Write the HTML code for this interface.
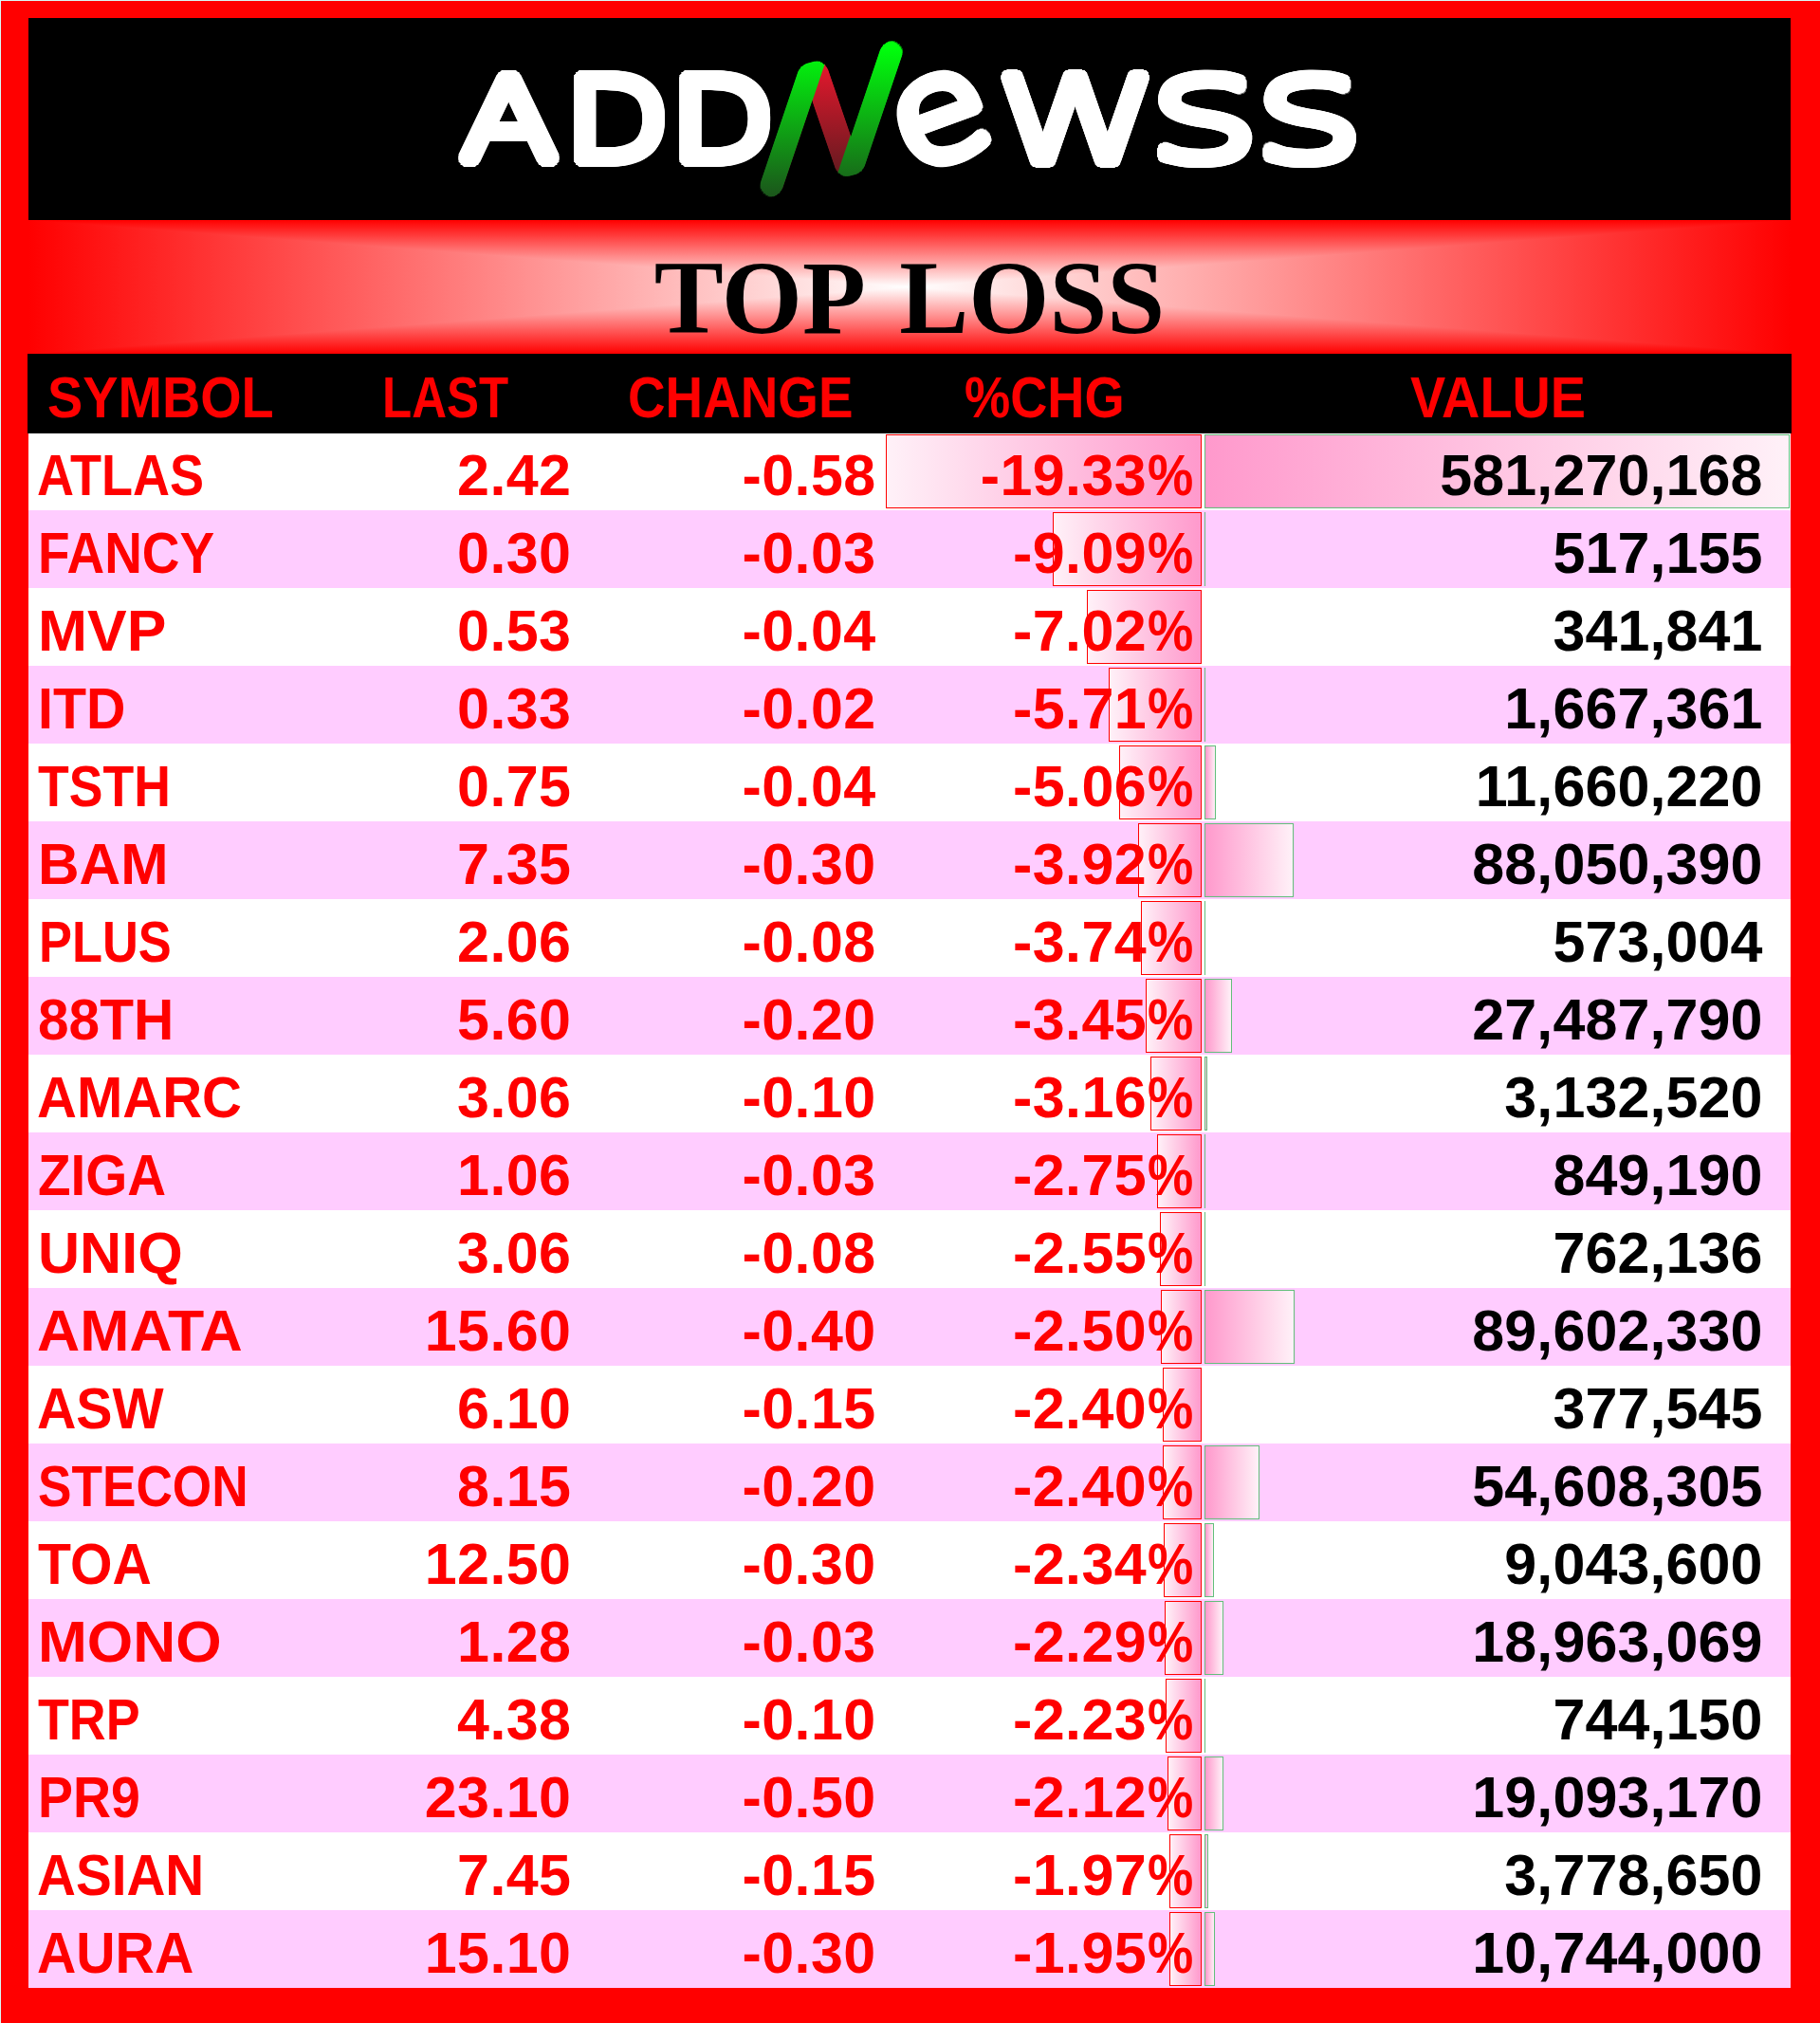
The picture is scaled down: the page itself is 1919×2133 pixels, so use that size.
<!DOCTYPE html>
<html lang="en"><head><meta charset="utf-8"><title>ADDNewss - TOP LOSS</title>
<style>
html,body{margin:0;padding:0;background:#ff0000;}
body{width:1919px;height:2133px;overflow:hidden;position:relative;font-family:"Liberation Sans",sans-serif;}
#page{position:absolute;left:0;top:0;width:1918px;height:2132px;background:#ff0000;border-left:1px solid #d9f8f6;border-top:1px solid #d9f8f6;}
#wrap{position:absolute;left:-1px;top:-1px;width:1919px;height:2133px;}
.brand{position:absolute;left:30px;top:19px;width:1858px;height:213px;background:#000;}
.brand svg{position:absolute;left:0;top:0;}
.title{position:absolute;left:30px;top:232px;width:1858px;height:141px;background:linear-gradient(to bottom,#ff0000 0%,#ffffff 50%,#ff0000 100%);}
.title .lr{position:absolute;left:0;top:0;width:100%;height:100%;background:linear-gradient(to right,#ff0000 0%,#ffffff 50%,#ff0000 100%);clip-path:polygon(0 0,50% 50%,100% 0,100% 100%,50% 50%,0 100%);}
.title h1{position:absolute;left:0;top:12px;width:100%;margin:0;text-align:center;font:bold 109.5px/141px "Liberation Serif",serif;color:#000;white-space:nowrap;word-spacing:14px;}
.thead{position:absolute;left:29px;top:373px;width:1860px;height:84px;background:#000;z-index:1;}
.row{position:absolute;left:30px;width:1858px;height:82px;background:#fff;}
.row.alt{background:#ffccff;}
.t{position:absolute;top:0;white-space:nowrap;font-weight:bold;font-size:61px;line-height:82px;color:#ff0000;}
.thead .t{line-height:84px;}
.sym{transform-origin:0 50%;}
.num{text-align:right;letter-spacing:0.4px;}
.val{color:#000;letter-spacing:0.1px;}
.pc{display:inline-block;transform-origin:0 50%;margin-left:1.2px;letter-spacing:0;}
.bar{position:absolute;top:2px;height:76px;box-sizing:content-box;border:1px solid #ff0000;}
.bp{background:linear-gradient(to right,#fff1f8 0%,#ff99cc 100%);}
.bv{border-color:#63be7b;background:linear-gradient(to right,#ff99cc 0%,#fff1f8 100%);}
</style></head><body><div id="page"><div id="wrap">
<div class="brand"><svg width="1858" height="213" viewBox="30 19 1858 213">
<defs>
<linearGradient id="gGreen" gradientUnits="userSpaceOnUse" x1="0" y1="50" x2="0" y2="205">
<stop offset="0" stop-color="#00ff0c"/><stop offset="1" stop-color="#1b581b"/></linearGradient>
<linearGradient id="gRed" gradientUnits="userSpaceOnUse" x1="0" y1="72" x2="0" y2="182">
<stop offset="0" stop-color="#df182c"/><stop offset="1" stop-color="#661a20"/></linearGradient>
<linearGradient id="gRedT" href="#gRed" gradientTransform="matrix(0.54042 0.17043 0.18303 0.63546 -460.772 -265.538)"/>
<filter id="dil950e100" filterUnits="userSpaceOnUse" x="400" y="19" width="1100" height="213" color-interpolation-filters="sRGB"><feMorphology in="SourceGraphic" operator="erode" radius="1.0" result="er"/><feMorphology in="er" operator="dilate" radius="9.46 0.83" result="d0"/><feMorphology in="er" operator="dilate" radius="9.18 2.46" result="d1"/><feMorphology in="er" operator="dilate" radius="8.61 4.01" result="d2"/><feMorphology in="er" operator="dilate" radius="7.78 5.45" result="d3"/><feMorphology in="er" operator="dilate" radius="6.72 6.72" result="d4"/><feMorphology in="er" operator="dilate" radius="5.45 7.78" result="d5"/><feMorphology in="er" operator="dilate" radius="4.01 8.61" result="d6"/><feMorphology in="er" operator="dilate" radius="2.46 9.18" result="d7"/><feMorphology in="er" operator="dilate" radius="0.83 9.46" result="d8"/><feMerge><feMergeNode in="d0"/><feMergeNode in="d1"/><feMergeNode in="d2"/><feMergeNode in="d3"/><feMergeNode in="d4"/><feMergeNode in="d5"/><feMergeNode in="d6"/><feMergeNode in="d7"/><feMergeNode in="d8"/></feMerge></filter>
<filter id="dil875e100" filterUnits="userSpaceOnUse" x="400" y="19" width="1100" height="213" color-interpolation-filters="sRGB"><feMorphology in="SourceGraphic" operator="erode" radius="1.0" result="er"/><feMorphology in="er" operator="dilate" radius="8.72 0.76" result="d0"/><feMorphology in="er" operator="dilate" radius="8.45 2.26" result="d1"/><feMorphology in="er" operator="dilate" radius="7.93 3.70" result="d2"/><feMorphology in="er" operator="dilate" radius="7.17 5.02" result="d3"/><feMorphology in="er" operator="dilate" radius="6.19 6.19" result="d4"/><feMorphology in="er" operator="dilate" radius="5.02 7.17" result="d5"/><feMorphology in="er" operator="dilate" radius="3.70 7.93" result="d6"/><feMorphology in="er" operator="dilate" radius="2.26 8.45" result="d7"/><feMorphology in="er" operator="dilate" radius="0.76 8.72" result="d8"/><feMerge><feMergeNode in="d0"/><feMergeNode in="d1"/><feMergeNode in="d2"/><feMergeNode in="d3"/><feMergeNode in="d4"/><feMergeNode in="d5"/><feMergeNode in="d6"/><feMergeNode in="d7"/><feMergeNode in="d8"/></feMerge></filter>
<filter id="dil800e100" filterUnits="userSpaceOnUse" x="400" y="19" width="1100" height="213" color-interpolation-filters="sRGB"><feMorphology in="SourceGraphic" operator="erode" radius="1.0" result="er"/><feMorphology in="er" operator="dilate" radius="7.97 0.70" result="d0"/><feMorphology in="er" operator="dilate" radius="7.73 2.07" result="d1"/><feMorphology in="er" operator="dilate" radius="7.25 3.38" result="d2"/><feMorphology in="er" operator="dilate" radius="6.55 4.59" result="d3"/><feMorphology in="er" operator="dilate" radius="5.66 5.66" result="d4"/><feMorphology in="er" operator="dilate" radius="4.59 6.55" result="d5"/><feMorphology in="er" operator="dilate" radius="3.38 7.25" result="d6"/><feMorphology in="er" operator="dilate" radius="2.07 7.73" result="d7"/><feMorphology in="er" operator="dilate" radius="0.70 7.97" result="d8"/><feMerge><feMergeNode in="d0"/><feMergeNode in="d1"/><feMergeNode in="d2"/><feMergeNode in="d3"/><feMergeNode in="d4"/><feMergeNode in="d5"/><feMergeNode in="d6"/><feMergeNode in="d7"/><feMergeNode in="d8"/></feMerge></filter>
<filter id="dil1125e250" filterUnits="userSpaceOnUse" x="400" y="19" width="1100" height="213" color-interpolation-filters="sRGB"><feMorphology in="SourceGraphic" operator="erode" radius="2.5" result="er"/><feMorphology in="er" operator="dilate" radius="11.21 0.98" result="d0"/><feMorphology in="er" operator="dilate" radius="10.87 2.91" result="d1"/><feMorphology in="er" operator="dilate" radius="10.20 4.75" result="d2"/><feMorphology in="er" operator="dilate" radius="9.22 6.45" result="d3"/><feMorphology in="er" operator="dilate" radius="7.95 7.95" result="d4"/><feMorphology in="er" operator="dilate" radius="6.45 9.22" result="d5"/><feMorphology in="er" operator="dilate" radius="4.75 10.20" result="d6"/><feMorphology in="er" operator="dilate" radius="2.91 10.87" result="d7"/><feMorphology in="er" operator="dilate" radius="0.98 11.21" result="d8"/><feMerge><feMergeNode in="d0"/><feMergeNode in="d1"/><feMergeNode in="d2"/><feMergeNode in="d3"/><feMergeNode in="d4"/><feMergeNode in="d5"/><feMergeNode in="d6"/><feMergeNode in="d7"/><feMergeNode in="d8"/></feMerge></filter>
<mask id="mN" maskUnits="userSpaceOnUse" x="780" y="19" width="200" height="213"><g filter="url(#dil1125e250)"><text transform="matrix(2.0353 -0.5459 -0.5862 1.7309 782.14 208.09)" font-family="DejaVu Sans, sans-serif" font-weight="200" font-size="100" fill="#fff">N</text></g></mask>
</defs>
<g filter="url(#dil950e100)"><text transform="translate(486.05 168.30) scale(1.2625 1)" font-family="DejaVu Sans, sans-serif" font-weight="200" font-size="117.53" fill="#fff">A</text></g>
<g filter="url(#dil950e100)"><text transform="translate(596.07 168.30) scale(1.2002 1)" font-family="DejaVu Sans, sans-serif" font-weight="200" font-size="117.53" fill="#fff">D</text></g>
<g filter="url(#dil950e100)"><text transform="translate(707.27 168.30) scale(1.2002 1)" font-family="DejaVu Sans, sans-serif" font-weight="200" font-size="117.53" fill="#fff">D</text></g>
<g mask="url(#mN)"><rect x="780" y="19" width="200" height="213" fill="url(#gGreen)"/><rect transform="matrix(2.0353 -0.5459 -0.5862 1.7309 782.14 208.09)" x="21.59" y="-150" width="28.31" height="230" fill="url(#gRedT)"/></g>
<g filter="url(#dil875e100)"><text transform="translate(993.20 125.80) rotate(-20) scale(1.1047 1) translate(-46.37 40.76)" font-family="DejaVu Sans, sans-serif" font-weight="200" font-size="149.57" fill="#fff">e</text></g>
<g filter="url(#dil800e100)"><text transform="translate(1047.65 170.00) scale(1.3333 1)" font-family="DejaVu Sans, sans-serif" font-weight="200" font-size="163.30" fill="#fff">w</text></g>
<g filter="url(#dil800e100)"><text transform="translate(1209.70 167.68) scale(1.4903 1)" font-family="DejaVu Sans, sans-serif" font-weight="200" font-size="154.78" fill="#fff">s</text></g>
<g filter="url(#dil800e100)"><text transform="translate(1321.52 167.68) scale(1.4627 1)" font-family="DejaVu Sans, sans-serif" font-weight="200" font-size="154.78" fill="#fff">s</text></g>
</svg></div>
<div class="title"><div class="lr"></div><h1>TOP LOSS</h1></div>
<div class="thead"><span class="t sym" style="left:21.2px;top:4px;transform:scaleX(0.9147)">SYMBOL</span><span class="t sym" style="left:374.2px;top:4px;transform:scaleX(0.8355)">LAST</span><span class="t sym" style="left:633.3px;top:4px;transform:scaleX(0.8982)">CHANGE</span><span class="t sym" style="left:988.0px;top:4px;transform:scaleX(0.8885)">%CHG</span><span class="t sym" style="left:1457.8px;top:4px;transform:scaleX(0.9153)">VALUE</span></div>
<div class="row" style="top:456px"><div class="bar bp" style="left:904.0px;width:331.0px"></div><div class="bar bv" style="left:1240px;width:615.0px"></div><span class="t sym" style="left:9.2px;top:3.5px;transform:scaleX(0.8857)">ATLAS</span><span class="t num" style="right:1285.6px;top:3.5px">2.42</span><span class="t num" style="right:964.4px;top:3.5px">-0.58</span><span class="t num" style="right:629.5px;top:3.5px">-19.33<span class="pc" style="transform:scaleX(0.8900);margin-right:-6.0px">%</span></span><span class="t num val" style="right:29.40000000000009px;top:3.5px">581,270,168</span></div>
<div class="row alt" style="top:538px"><div class="bar bp" style="left:1080.4px;width:154.6px"></div><div class="bar bv" style="left:1240px;width:0;border-right:0;border-left-width:0.75px"></div><span class="t sym" style="left:10.4px;top:3.5px;transform:scaleX(0.9002)">FANCY</span><span class="t num" style="right:1285.6px;top:3.5px">0.30</span><span class="t num" style="right:964.4px;top:3.5px">-0.03</span><span class="t num" style="right:629.5px;top:3.5px">-9.09<span class="pc" style="transform:scaleX(0.8900);margin-right:-6.0px">%</span></span><span class="t num val" style="right:29.40000000000009px;top:3.5px">517,155</span></div>
<div class="row" style="top:620px"><div class="bar bp" style="left:1116.1px;width:118.9px"></div><span class="t sym" style="left:9.9px;top:3.5px;transform:scaleX(1.0233)">MVP</span><span class="t num" style="right:1285.6px;top:3.5px">0.53</span><span class="t num" style="right:964.4px;top:3.5px">-0.04</span><span class="t num" style="right:629.5px;top:3.5px">-7.02<span class="pc" style="transform:scaleX(0.8900);margin-right:-6.0px">%</span></span><span class="t num val" style="right:29.40000000000009px;top:3.5px">341,841</span></div>
<div class="row alt" style="top:702px"><div class="bar bp" style="left:1138.6px;width:96.4px"></div><div class="bar bv" style="left:1240px;width:0;border-right:0;border-left-width:1.77px"></div><span class="t sym" style="left:10.2px;top:3.5px;transform:scaleX(0.9402)">ITD</span><span class="t num" style="right:1285.6px;top:3.5px">0.33</span><span class="t num" style="right:964.4px;top:3.5px">-0.02</span><span class="t num" style="right:629.5px;top:3.5px">-5.71<span class="pc" style="transform:scaleX(0.8900);margin-right:-6.0px">%</span></span><span class="t num val" style="right:29.40000000000009px;top:3.5px">1,667,361</span></div>
<div class="row" style="top:784px"><div class="bar bp" style="left:1149.8px;width:85.2px"></div><div class="bar bv" style="left:1240px;width:10.4px"></div><span class="t sym" style="left:9.6px;top:3.5px;transform:scaleX(0.8783)">TSTH</span><span class="t num" style="right:1285.6px;top:3.5px">0.75</span><span class="t num" style="right:964.4px;top:3.5px">-0.04</span><span class="t num" style="right:629.5px;top:3.5px">-5.06<span class="pc" style="transform:scaleX(0.8900);margin-right:-6.0px">%</span></span><span class="t num val" style="right:29.40000000000009px;top:3.5px">11,660,220</span></div>
<div class="row alt" style="top:866px"><div class="bar bp" style="left:1169.5px;width:65.5px"></div><div class="bar bv" style="left:1240px;width:91.5px"></div><span class="t sym" style="left:10.0px;top:3.5px;transform:scaleX(0.9901)">BAM</span><span class="t num" style="right:1285.6px;top:3.5px">7.35</span><span class="t num" style="right:964.4px;top:3.5px">-0.30</span><span class="t num" style="right:629.5px;top:3.5px">-3.92<span class="pc" style="transform:scaleX(0.8900);margin-right:-6.0px">%</span></span><span class="t num val" style="right:29.40000000000009px;top:3.5px">88,050,390</span></div>
<div class="row" style="top:948px"><div class="bar bp" style="left:1172.6px;width:62.4px"></div><div class="bar bv" style="left:1240px;width:0;border-right:0;border-left-width:0.75px"></div><span class="t sym" style="left:10.6px;top:3.5px;transform:scaleX(0.8596)">PLUS</span><span class="t num" style="right:1285.6px;top:3.5px">2.06</span><span class="t num" style="right:964.4px;top:3.5px">-0.08</span><span class="t num" style="right:629.5px;top:3.5px">-3.74<span class="pc" style="transform:scaleX(0.8900);margin-right:-6.0px">%</span></span><span class="t num val" style="right:29.40000000000009px;top:3.5px">573,004</span></div>
<div class="row alt" style="top:1030px"><div class="bar bp" style="left:1177.6px;width:57.4px"></div><div class="bar bv" style="left:1240px;width:27.2px"></div><span class="t sym" style="left:9.6px;top:3.5px;transform:scaleX(0.9601)">88TH</span><span class="t num" style="right:1285.6px;top:3.5px">5.60</span><span class="t num" style="right:964.4px;top:3.5px">-0.20</span><span class="t num" style="right:629.5px;top:3.5px">-3.45<span class="pc" style="transform:scaleX(0.8900);margin-right:-6.0px">%</span></span><span class="t num val" style="right:29.40000000000009px;top:3.5px">27,487,790</span></div>
<div class="row" style="top:1112px"><div class="bar bp" style="left:1182.6px;width:52.4px"></div><div class="bar bv" style="left:1240px;width:1.3px"></div><span class="t sym" style="left:9.1px;top:3.5px;transform:scaleX(0.9514)">AMARC</span><span class="t num" style="right:1285.6px;top:3.5px">3.06</span><span class="t num" style="right:964.4px;top:3.5px">-0.10</span><span class="t num" style="right:629.5px;top:3.5px">-3.16<span class="pc" style="transform:scaleX(0.8900);margin-right:-6.0px">%</span></span><span class="t num val" style="right:29.40000000000009px;top:3.5px">3,132,520</span></div>
<div class="row alt" style="top:1194px"><div class="bar bp" style="left:1189.6px;width:45.4px"></div><div class="bar bv" style="left:1240px;width:0;border-right:0;border-left-width:0.90px"></div><span class="t sym" style="left:9.5px;top:3.5px;transform:scaleX(0.9274)">ZIGA</span><span class="t num" style="right:1285.6px;top:3.5px">1.06</span><span class="t num" style="right:964.4px;top:3.5px">-0.03</span><span class="t num" style="right:629.5px;top:3.5px">-2.75<span class="pc" style="transform:scaleX(0.8900);margin-right:-6.0px">%</span></span><span class="t num val" style="right:29.40000000000009px;top:3.5px">849,190</span></div>
<div class="row" style="top:1276px"><div class="bar bp" style="left:1193.1px;width:41.9px"></div><div class="bar bv" style="left:1240px;width:0;border-right:0;border-left-width:0.81px"></div><span class="t sym" style="left:10.3px;top:3.5px;transform:scaleX(1.0011)">UNIQ</span><span class="t num" style="right:1285.6px;top:3.5px">3.06</span><span class="t num" style="right:964.4px;top:3.5px">-0.08</span><span class="t num" style="right:629.5px;top:3.5px">-2.55<span class="pc" style="transform:scaleX(0.8900);margin-right:-6.0px">%</span></span><span class="t num val" style="right:29.40000000000009px;top:3.5px">762,136</span></div>
<div class="row alt" style="top:1358px"><div class="bar bp" style="left:1193.9px;width:41.1px"></div><div class="bar bv" style="left:1240px;width:93.1px"></div><span class="t sym" style="left:9.0px;top:3.5px;transform:scaleX(1.0267)">AMATA</span><span class="t num" style="right:1285.6px;top:3.5px">15.60</span><span class="t num" style="right:964.4px;top:3.5px">-0.40</span><span class="t num" style="right:629.5px;top:3.5px">-2.50<span class="pc" style="transform:scaleX(0.8900);margin-right:-6.0px">%</span></span><span class="t num val" style="right:29.40000000000009px;top:3.5px">89,602,330</span></div>
<div class="row" style="top:1440px"><div class="bar bp" style="left:1195.7px;width:39.3px"></div><span class="t sym" style="left:9.1px;top:3.5px;transform:scaleX(0.9392)">ASW</span><span class="t num" style="right:1285.6px;top:3.5px">6.10</span><span class="t num" style="right:964.4px;top:3.5px">-0.15</span><span class="t num" style="right:629.5px;top:3.5px">-2.40<span class="pc" style="transform:scaleX(0.8900);margin-right:-6.0px">%</span></span><span class="t num val" style="right:29.40000000000009px;top:3.5px">377,545</span></div>
<div class="row alt" style="top:1522px"><div class="bar bp" style="left:1195.7px;width:39.3px"></div><div class="bar bv" style="left:1240px;width:56.0px"></div><span class="t sym" style="left:9.8px;top:3.5px;transform:scaleX(0.8720)">STECON</span><span class="t num" style="right:1285.6px;top:3.5px">8.15</span><span class="t num" style="right:964.4px;top:3.5px">-0.20</span><span class="t num" style="right:629.5px;top:3.5px">-2.40<span class="pc" style="transform:scaleX(0.8900);margin-right:-6.0px">%</span></span><span class="t num val" style="right:29.40000000000009px;top:3.5px">54,608,305</span></div>
<div class="row" style="top:1604px"><div class="bar bp" style="left:1196.7px;width:38.3px"></div><div class="bar bv" style="left:1240px;width:7.6px"></div><span class="t sym" style="left:9.6px;top:3.5px;transform:scaleX(0.9377)">TOA</span><span class="t num" style="right:1285.6px;top:3.5px">12.50</span><span class="t num" style="right:964.4px;top:3.5px">-0.30</span><span class="t num" style="right:629.5px;top:3.5px">-2.34<span class="pc" style="transform:scaleX(0.8900);margin-right:-6.0px">%</span></span><span class="t num val" style="right:29.40000000000009px;top:3.5px">9,043,600</span></div>
<div class="row alt" style="top:1686px"><div class="bar bp" style="left:1197.5px;width:37.5px"></div><div class="bar bv" style="left:1240px;width:18.1px"></div><span class="t sym" style="left:9.9px;top:3.5px;transform:scaleX(1.0202)">MONO</span><span class="t num" style="right:1285.6px;top:3.5px">1.28</span><span class="t num" style="right:964.4px;top:3.5px">-0.03</span><span class="t num" style="right:629.5px;top:3.5px">-2.29<span class="pc" style="transform:scaleX(0.8900);margin-right:-6.0px">%</span></span><span class="t num val" style="right:29.40000000000009px;top:3.5px">18,963,069</span></div>
<div class="row" style="top:1768px"><div class="bar bp" style="left:1198.6px;width:36.4px"></div><div class="bar bv" style="left:1240px;width:0;border-right:0;border-left-width:0.79px"></div><span class="t sym" style="left:9.6px;top:3.5px;transform:scaleX(0.8817)">TRP</span><span class="t num" style="right:1285.6px;top:3.5px">4.38</span><span class="t num" style="right:964.4px;top:3.5px">-0.10</span><span class="t num" style="right:629.5px;top:3.5px">-2.23<span class="pc" style="transform:scaleX(0.8900);margin-right:-6.0px">%</span></span><span class="t num val" style="right:29.40000000000009px;top:3.5px">744,150</span></div>
<div class="row alt" style="top:1850px"><div class="bar bp" style="left:1200.5px;width:34.5px"></div><div class="bar bv" style="left:1240px;width:18.3px"></div><span class="t sym" style="left:10.4px;top:3.5px;transform:scaleX(0.9095)">PR9</span><span class="t num" style="right:1285.6px;top:3.5px">23.10</span><span class="t num" style="right:964.4px;top:3.5px">-0.50</span><span class="t num" style="right:629.5px;top:3.5px">-2.12<span class="pc" style="transform:scaleX(0.8900);margin-right:-6.0px">%</span></span><span class="t num val" style="right:29.40000000000009px;top:3.5px">19,093,170</span></div>
<div class="row" style="top:1932px"><div class="bar bp" style="left:1203.1px;width:31.9px"></div><div class="bar bv" style="left:1240px;width:2.0px"></div><span class="t sym" style="left:9.1px;top:3.5px;transform:scaleX(0.9284)">ASIAN</span><span class="t num" style="right:1285.6px;top:3.5px">7.45</span><span class="t num" style="right:964.4px;top:3.5px">-0.15</span><span class="t num" style="right:629.5px;top:3.5px">-1.97<span class="pc" style="transform:scaleX(0.8900);margin-right:-6.0px">%</span></span><span class="t num val" style="right:29.40000000000009px;top:3.5px">3,778,650</span></div>
<div class="row alt" style="top:2014px"><div class="bar bp" style="left:1203.4px;width:31.6px"></div><div class="bar bv" style="left:1240px;width:9.4px"></div><span class="t sym" style="left:9.1px;top:3.5px;transform:scaleX(0.9375)">AURA</span><span class="t num" style="right:1285.6px;top:3.5px">15.10</span><span class="t num" style="right:964.4px;top:3.5px">-0.30</span><span class="t num" style="right:629.5px;top:3.5px">-1.95<span class="pc" style="transform:scaleX(0.8900);margin-right:-6.0px">%</span></span><span class="t num val" style="right:29.40000000000009px;top:3.5px">10,744,000</span></div>
</div></div></body></html>
